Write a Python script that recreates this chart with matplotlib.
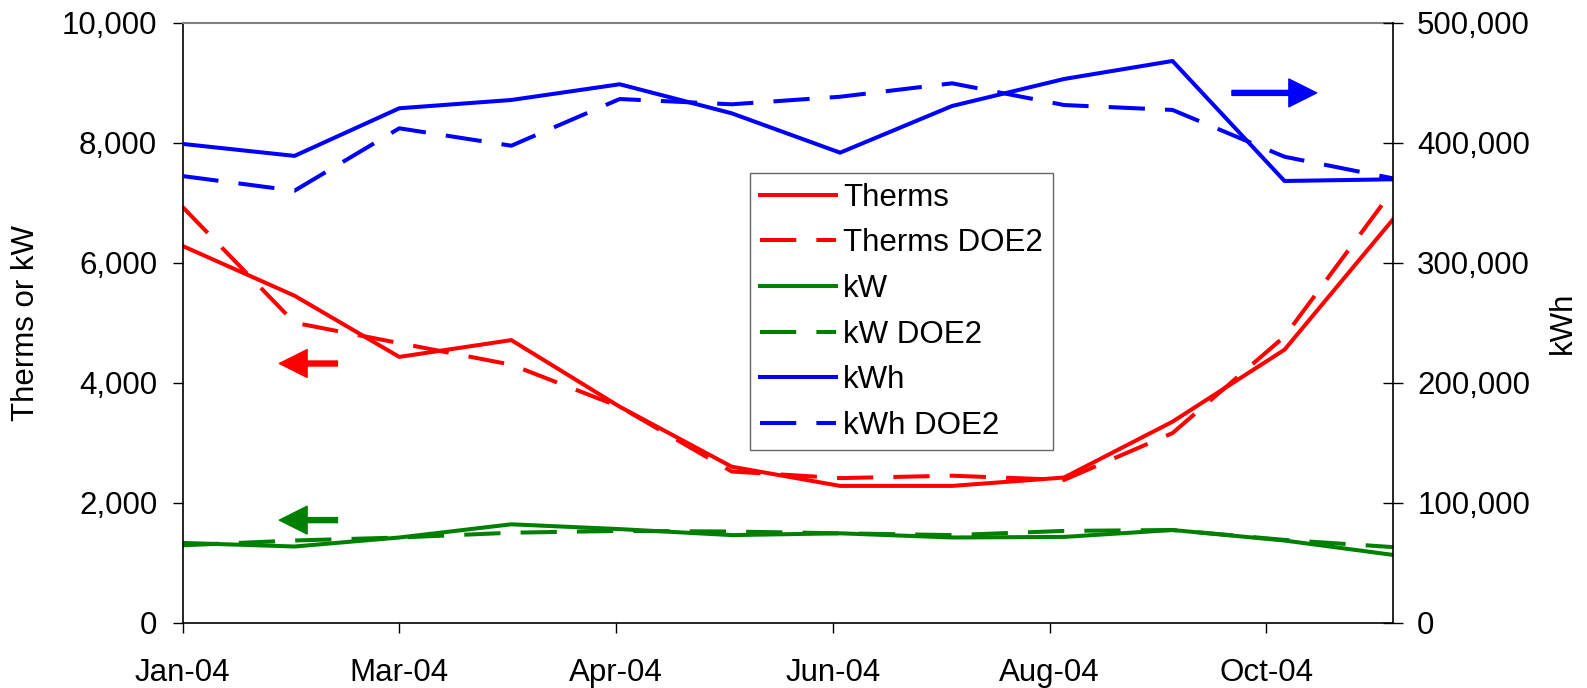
from datetime import datetime, timedelta
import matplotlib
matplotlib.use("Agg")
import matplotlib.pyplot as plt
import matplotlib.dates as mdates
from matplotlib.ticker import FuncFormatter

plt.rcParams['font.family'] = ['Liberation Sans', 'DejaVu Sans']

# monthly billing data, 2004
months = [datetime(2004, m, 1) for m in range(1, 13)]
therms = [6280, 5450, 4430, 4710, 3600, 2600, 2280, 2280, 2420, 3350, 4550, 6720]
therms_doe2 = [6930, 5000, 4660, 4300, 3600, 2520, 2410, 2450, 2380, 3160, 4770, 7210]
kw = [1330, 1270, 1420, 1640, 1560, 1460, 1490, 1420, 1430, 1545, 1370, 1130]
kw_doe2 = [1290, 1370, 1420, 1500, 1530, 1520, 1490, 1460, 1530, 1545, 1380, 1260]
kwh = [399000, 389000, 428700, 435600, 448700, 424500, 391700, 430600, 453100, 468100, 368100, 369500]
kwh_doe2 = [372200, 360000, 412000, 397500, 436400, 432000, 438300, 449500, 431400, 427300, 388300, 370300]

tick_dates = [datetime(2004, 1, 1) + timedelta(days=60 * i) for i in range(6)]

FS = 22.5
LW = 2.9
DASH = (9, 5)

fig = plt.figure(figsize=(15.87, 6.88), dpi=100)
ax = fig.add_axes([0.115, 0.0949, 0.7627, 0.8721])
ax2 = ax.twinx()

l1, = ax.plot(months, therms, color='#FF0000', lw=LW, label='Therms')
l2, = ax.plot(months, therms_doe2, color='#FF0000', lw=LW, dashes=DASH, label='Therms DOE2')
l3, = ax.plot(months, kw, color='#008000', lw=LW, label='kW')
l4, = ax.plot(months, kw_doe2, color='#008000', lw=LW, dashes=DASH, label='kW DOE2')
l5, = ax2.plot(months, kwh, color='#0000FF', lw=LW, label='kWh')
l6, = ax2.plot(months, kwh_doe2, color='#0000FF', lw=LW, dashes=DASH, label='kWh DOE2')

ax.set_xlim(months[0], months[-1])
ax.set_ylim(0, 10000)
ax2.set_ylim(0, 500000)
ax.set_yticks(range(0, 10001, 2000))
ax2.set_yticks(range(0, 500001, 100000))
ax.set_xticks(tick_dates)
ax.xaxis.set_major_formatter(mdates.DateFormatter('%b-%y'))

comma = FuncFormatter(lambda v, p: f"{int(v):,}")
ax.yaxis.set_major_formatter(comma)
ax2.yaxis.set_major_formatter(comma)

ax.tick_params(axis='both', labelsize=FS, direction='out', length=7.2, width=1, color='black')
ax.tick_params(axis='y', pad=11)
ax.tick_params(axis='x', pad=18)
ax2.tick_params(axis='y', labelsize=FS, direction='inout', length=15, width=1, pad=10)

ax.set_ylabel('Therms or kW', fontsize=FS, labelpad=15)
ax2.set_ylabel('kWh', fontsize=FS, labelpad=13)

for s in ['left', 'bottom']:
    ax.spines[s].set_color('black')
    ax.spines[s].set_linewidth(1.2)
ax.spines['top'].set_color('#808080')
ax.spines['top'].set_linewidth(1.5)
ax.spines['right'].set_visible(False)
ax2.spines['right'].set_color('black')
ax2.spines['right'].set_linewidth(1.2)
for s in ['left', 'bottom', 'top']:
    ax2.spines[s].set_visible(False)

# direction arrows showing which axis each series uses
arrow = dict(width=3.6, headwidth=20, headlength=20, shrink=0)
ax.annotate('', xy=(0.080, 0.432), xytext=(0.128, 0.432), xycoords='axes fraction',
            arrowprops=dict(color='#FF0000', **arrow))
ax.annotate('', xy=(0.080, 0.171), xytext=(0.128, 0.171), xycoords='axes fraction',
            arrowprops=dict(color='#008000', **arrow))
ax.annotate('', xy=(0.937, 0.883), xytext=(0.867, 0.883), xycoords='axes fraction',
            arrowprops=dict(color='#0000FF', **arrow))

leg = ax2.legend(handles=[l1, l2, l3, l4, l5, l6], loc='upper left',
                 bbox_to_anchor=(0.469, 0.749), borderaxespad=0, fontsize=FS,
                 handlelength=2.46, handletextpad=0.22, labelspacing=0.5,
                 borderpad=0.3, fancybox=False, framealpha=1)
leg.get_frame().set_edgecolor('#666666')
leg.get_frame().set_linewidth(1)

fig.savefig('out.png', dpi=100)
